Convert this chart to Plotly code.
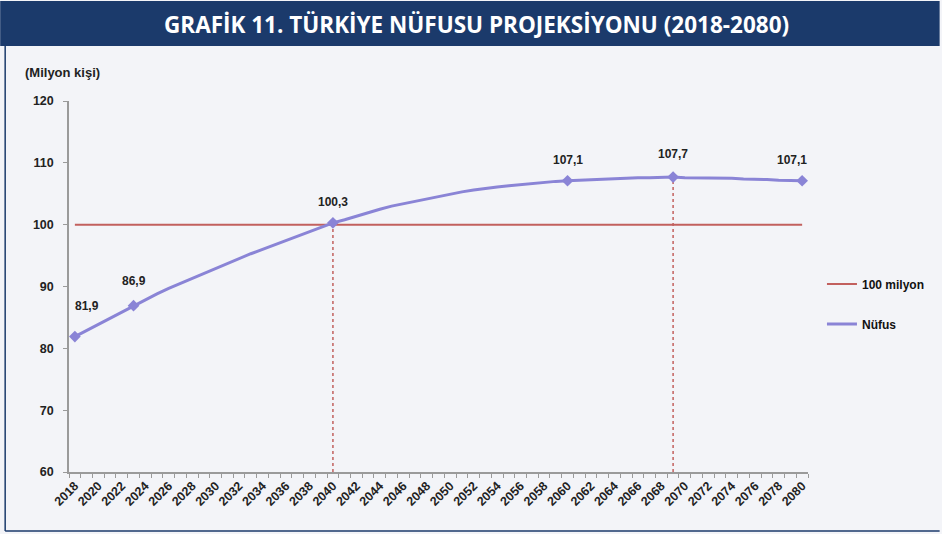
import plotly.graph_objects as go

years = list(range(2018, 2081))
population = [81.9, 82.9, 83.9, 84.9, 85.9, 86.9, 87.9, 88.8, 89.7, 90.5,
              91.4, 92.2, 93.0, 93.8, 94.5, 95.3, 96.0, 96.7, 97.4, 98.1,
              98.8, 99.5, 100.3, 100.8, 101.4, 101.9, 102.5, 103.0, 103.4, 103.8,
              104.2, 104.6, 105.0, 105.3, 105.6, 105.9, 106.1, 106.3, 106.5, 106.7,
              106.8, 107.0, 107.1, 107.2, 107.3, 107.4, 107.5, 107.5, 107.6, 107.6,
              107.7, 107.7, 107.6, 107.6, 107.6, 107.5, 107.5, 107.4, 107.4, 107.3,
              107.2, 107.2, 107.1]
threshold = 100
labeled_years = [2018, 2023, 2040, 2060, 2069, 2080]
label_shift = [(12, 22), (0, 16), (0, 12), (0, 12), (0, 14), (-10, 12)]
drop_years = [2040, 2069]
tick_labels = [str(y) for y in range(2018, 2081, 2)]

RED = "#c2605e"
PURPLE = "#8a84d6"
BG = "#f3f4f8"
NAVY = "#1b3a6b"

fig = go.Figure()

# vertical dotted lines
for yr in drop_years:
    v = population[years.index(yr)]
    fig.add_trace(go.Scatter(x=[yr, yr], y=[60, v], mode="lines",
                             line=dict(color=RED, width=1.5, dash="dot"),
                             showlegend=False, hoverinfo="skip"))

fig.add_trace(go.Scatter(x=years, y=[threshold] * len(years), mode="lines",
                         name="100 milyon", line=dict(color=RED, width=2),
                         legend="legend"))

fig.add_trace(go.Scatter(x=years, y=population, mode="lines",
                         name="Nüfus", line=dict(color=PURPLE, width=3),
                         legend="legend2"))

lab_vals = [population[years.index(y)] for y in labeled_years]
fig.add_trace(go.Scatter(x=labeled_years, y=lab_vals, mode="markers",
                         marker=dict(symbol="diamond", size=9, color=PURPLE),
                         showlegend=False, hoverinfo="skip"))

for yr, v, (dx, dy) in zip(labeled_years, lab_vals, label_shift):
    fig.add_annotation(x=yr, y=v, xref="x", yref="y",
                       text="<b>" + f"{v:.1f}".replace(".", ",") + "</b>",
                       showarrow=False, xshift=dx, yshift=dy,
                       font=dict(family="Liberation Sans", size=12, color="#222222"),
                       yanchor="bottom")

# title bar and frame
W, H = 942, 534
L, R, T, B = 69, 132, 101, 62
pw, ph = W - L - R, H - T - B
def px(x):
    return (x - L) / pw
def py(y):
    return (H - B - y) / ph

fig.add_shape(type="rect", xref="paper", yref="paper",
              x0=px(0), x1=px(W), y0=py(46), y1=py(1),
              fillcolor=NAVY, line=dict(width=0), layer="below")
fig.add_shape(type="line", xref="paper", yref="paper",
              x0=px(5), x1=px(5), y0=py(531), y1=py(46),
              line=dict(color=NAVY, width=1.5))
fig.add_shape(type="line", xref="paper", yref="paper",
              x0=px(5), x1=px(W), y0=py(531), y1=py(531),
              line=dict(color=NAVY, width=1.5))

fig.add_annotation(xref="paper", yref="paper", x=px(478), y=py(24),
                   text="<b>GRAFİK 11. TÜRKİYE NÜFUSU PROJEKSİYONU (2018-2080)</b>",
                   showarrow=False, xanchor="center", yanchor="middle",
                   font=dict(family="Open Sans", size=22.5, color="white"))
fig.add_annotation(xref="paper", yref="paper", x=px(23), y=py(72),
                   text="<b>(Milyon kişi)</b>", showarrow=False,
                   xanchor="left", yanchor="middle",
                   font=dict(family="Liberation Sans", size=13, color="#222222"))

fig.update_layout(
    width=W, height=H,
    margin=dict(l=L, r=R, t=T, b=B),
    paper_bgcolor=BG, plot_bgcolor=BG,
    showlegend=True,
    legend=dict(x=px(824), y=py(284), xanchor="left", yanchor="middle",
                bgcolor="rgba(0,0,0,0)",
                font=dict(family="Liberation Sans", size=12, color="#111111", weight="bold")),
    legend2=dict(x=px(824), y=py(324), xanchor="left", yanchor="middle",
                 bgcolor="rgba(0,0,0,0)",
                 font=dict(family="Liberation Sans", size=12, color="#111111", weight="bold")),
    xaxis=dict(range=[2017.5, 2080.5], tickvals=list(range(2018, 2081, 2)),
               ticktext=[f"<b>{t}</b>" for t in tick_labels], tickangle=-45,
               ticks="", showgrid=False, zeroline=False,
               showline=True, linecolor="#9a9a9a", linewidth=1.5,
               tickfont=dict(family="Liberation Sans", size=12.5, color="#222222"),
               minor=dict(tick0=2017.5, dtick=1, ticks="outside", ticklen=4,
                          tickcolor="#9a9a9a", showgrid=False)),
    yaxis=dict(range=[60, 120], tickvals=[60, 70, 80, 90, 100, 110, 120],
               ticktext=[f"<b>{v}</b>" for v in [60, 70, 80, 90, 100, 110, 120]],
               ticks="outside", ticklen=4, tickcolor="#9a9a9a",
               showgrid=False, zeroline=False,
               showline=True, linecolor="#9a9a9a", linewidth=1.5,
               ticklabelstandoff=7,
               tickfont=dict(family="Liberation Sans", size=12.5, color="#222222")),
)

fig.write_html("out.html", config={"displayModeBar": False},
               post_script="document.body.style.margin='0';")
